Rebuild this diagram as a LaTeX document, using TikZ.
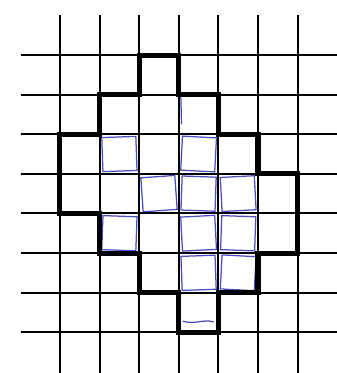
\documentclass[tikz,border=0pt]{standalone}
\begin{document}
\begin{tikzpicture}[x=1cm, y=1cm,
    gridline/.style={line width=1.45pt},
    outline/.style={line width=3.6pt, line join=miter},
    pencil/.style={draw=blue!65!black, line width=0.9pt, opacity=0.7}]
  \def\W{6}
  \def\H{7}
  \useasboundingbox (-1.515,-8.03) rectangle (6.995,1.389);

  % squared paper
  \foreach \i in {0,...,\W}
    \draw[gridline] (\i,1.0) -- (\i,-8.03);
  \foreach \j in {0,...,\H}
    \draw[gridline] (-0.985,-\j) -- (6.995,-\j);

  % hand drawn unit squares
  \foreach \c/\r/\a in {1/2/2, 3/2/-3, 2/3/4, 3/3/-2, 4/3/3,
                        1/4/-2, 3/4/3, 4/4/-2, 3/5/2, 4/5/-3}
    \draw[pencil, rotate around={\a:(\c+0.5,-\r-0.5)}]
      (\c+0.07,-\r-0.07) rectangle (\c+0.93,-\r-0.93);
  \draw[pencil] (3.05,-1.0) -- (3.07,-1.75);
  \draw[pencil] (3.1,-6.72) .. controls (3.4,-6.82) and (3.6,-6.66) .. (3.88,-6.74);

  % boundary of the figure
  \draw[outline] (2,0) -- (3,0) -- (3,-1) -- (4,-1) -- (4,-2) -- (5,-2)
    -- (5,-3) -- (6,-3) -- (6,-5) -- (5,-5) -- (5,-6) -- (4,-6) -- (4,-7)
    -- (3,-7) -- (3,-6) -- (2,-6) -- (2,-5) -- (1,-5) -- (1,-4) -- (0,-4)
    -- (0,-2) -- (1,-2) -- (1,-1) -- (2,-1) -- cycle;
\end{tikzpicture}
\end{document}
